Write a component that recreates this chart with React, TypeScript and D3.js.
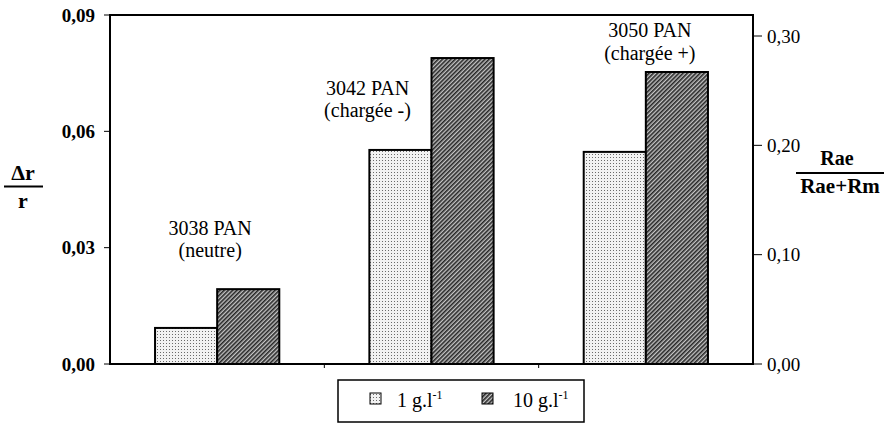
import React from 'react';
import * as d3 from 'd3';

const groups = ['3038 PAN', '3042 PAN', '3050 PAN'];
const groupNotes = ['(neutre)', '(chargée -)', '(chargée +)'];
const series = ['1 g.l', '10 g.l'];
const lowValues = [0.0093, 0.0552, 0.0547];
const highValues = [0.0193, 0.0789, 0.0753];
const leftTicks = [0, 0.03, 0.06, 0.09];
const rightTicks = [0, 0.1, 0.2, 0.3];
// label anchors: level in left-axis units, horizontal shift from group centre
const labelLevels = [0.0333, 0.0694, 0.0843];
const labelShift = [-7, -64, 4];

const fmt = (v: number) => v.toFixed(2).replace('.', ',');
const FONT = 'Liberation Serif';

const width = 888;
const height = 424;
const left = 110, right = 753, top = 15, bottom = 364;

const x0 = d3.scaleBand<string>().domain(groups).range([left, right]);
const x1 = d3.scaleBand<string>().domain(series).range([0, x0.bandwidth()]).paddingOuter(0.725);
const y = d3.scaleLinear().domain([0, 0.09]).range([bottom, top]);
const y2 = d3.scaleLinear().domain([0, 0.3]).range([bottom, 36]);

const fills = ['url(#dots)', 'url(#hatch)'];

const App: React.FC = () => {
  const rows = groups.map((g, i) => ({ g, vals: [lowValues[i], highValues[i]] }));
  const legendX = [370, 482];

  return (
    <svg width={width} height={height} fontFamily={FONT}
      style={{ position: 'absolute', left: 0, top: 0 }}>
      <defs>
        <pattern id="dots" patternUnits="userSpaceOnUse" width={3} height={3}>
          <rect width={3} height={3} fill="#f2f2f2" />
          <rect x={1} y={1} width={1} height={1} fill="#6a6a6a" />
        </pattern>
        <pattern id="hatch" patternUnits="userSpaceOnUse" width={3} height={3}
          patternTransform="rotate(45)">
          <rect width={3} height={3} fill="#c4c4c4" />
          <rect width={1.6} height={3} fill="#262626" />
        </pattern>
      </defs>

      {rows.map(r => r.vals.map((v, j) => (
        <rect key={r.g + j}
          x={(x0(r.g) ?? 0) + (x1(series[j]) ?? 0)}
          y={y(v)}
          width={x1.bandwidth()}
          height={y(0) - y(v)}
          fill={fills[j]} stroke="#000" strokeWidth={2} />
      )))}

      <rect x={left} y={top} width={right - left} height={bottom - top}
        fill="none" stroke="#000" strokeWidth={2} />

      {leftTicks.map(t => (
        <g key={'l' + t}>
          <line x1={left - 6} x2={left} y1={y(t)} y2={y(t)} stroke="#000" />
          <text x={95} y={y(t)} dy="0.35em" textAnchor="end" fontSize={19} fontWeight="bold">{fmt(t)}</text>
        </g>
      ))}

      {rightTicks.map(t => (
        <g key={'r' + t}>
          <line x1={right} x2={right + 9} y1={y2(t)} y2={y2(t)} stroke="#000" />
          <text x={767} y={y2(t)} dy="0.35em" fontSize={19}>{fmt(t)}</text>
        </g>
      ))}

      {groups.slice(1).map(g => (
        <line key={'b' + g} x1={x0(g) ?? 0} x2={x0(g) ?? 0} y1={bottom} y2={bottom + 4} stroke="#000" />
      ))}

      {groups.map((g, i) => {
        const cx = (x0(g) ?? 0) + x0.bandwidth() / 2 + labelShift[i];
        const by = y(labelLevels[i]);
        return (
          <g key={'t' + g}>
            <text x={cx} y={by} textAnchor="middle" fontSize={20}>{g}</text>
            <text x={cx} y={by + 22.5} textAnchor="middle" fontSize={20}>{groupNotes[i]}</text>
          </g>
        );
      })}

      <text x={23} y={180} textAnchor="middle" fontSize={22} fontWeight="bold">Δr</text>
      <line x1={4} x2={43} y1={186.5} y2={186.5} stroke="#000" strokeWidth={2} />
      <text x={23} y={208} textAnchor="middle" fontSize={22} fontWeight="bold">r</text>

      <text x={837} y={165} textAnchor="middle" fontSize={20} fontWeight="bold">Rae</text>
      <line x1={796} x2={884} y1={173} y2={173} stroke="#000" strokeWidth={2} />
      <text x={840} y={193} textAnchor="middle" fontSize={21} fontWeight="bold">Rae+Rm</text>

      <rect x={338} y={380} width={246} height={42} fill="#fff" stroke="#000" strokeWidth={1.5} />
      {series.map((s, j) => (
        <g key={'lg' + s}>
          <rect x={legendX[j]} y={393} width={11} height={11} fill={fills[j]} stroke="#000" />
          <text x={legendX[j] + (j === 0 ? 27 : 31)} y={407} fontSize={20}>
            {s}<tspan dy={-8} fontSize={12}>-1</tspan>
          </text>
        </g>
      ))}
    </svg>
  );
};

export default App;
